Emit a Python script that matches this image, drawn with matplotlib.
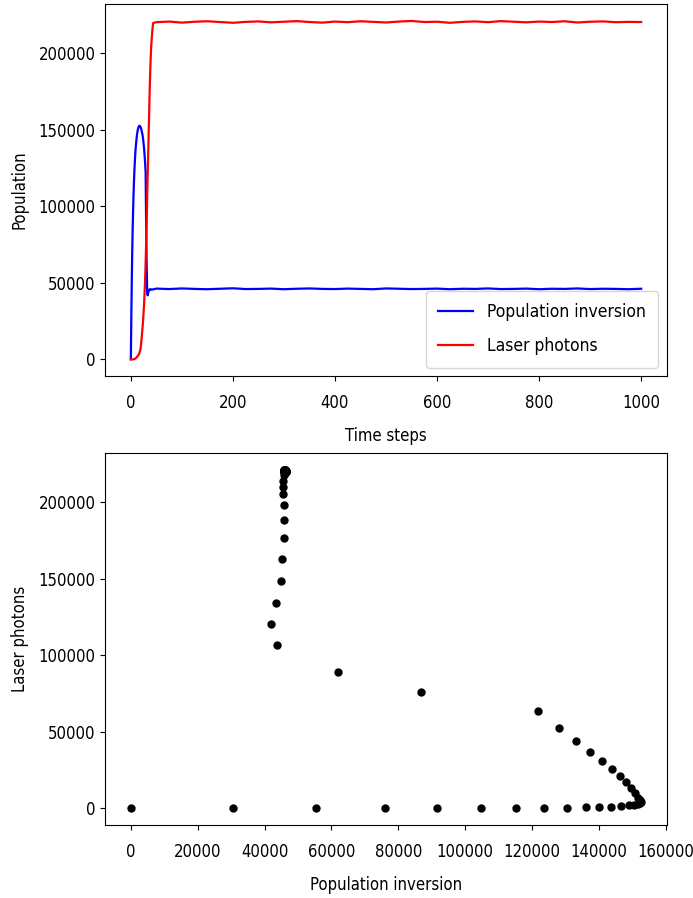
import numpy as np
import matplotlib
matplotlib.use('Agg')
import matplotlib.pyplot as plt

plt.rcParams['font.family'] = ['DejaVu Sans']
plt.rcParams['font.stretch'] = 'condensed'

# start-up transient, one value per time step (t = 0..44)
inversion_start = [0, 30500, 55400, 75900, 91500, 104600, 115100, 123600, 130300,
                   136100, 140100, 143600, 146500, 148900, 150500, 151600, 152300,
                   152600, 152300, 151800, 150800, 149600, 148000, 146300, 143900,
                   140800, 137400, 133000, 127900, 121800, 86800, 61800, 43800,
                   41800, 43500, 44800, 45100, 45800, 45800, 45800, 45500, 45500,
                   45600, 45700, 45700]
photons_start = [0, 0, 0, 0, 0, 0, 100, 200, 300, 600, 900, 1200, 1600, 2000, 2400,
                 2900, 3500, 4400, 5500, 6700, 10000, 13300, 17100, 21100, 25500,
                 31100, 36600, 44000, 52600, 63300, 76100, 88900, 106700, 120400,
                 133800, 148600, 163100, 176800, 188300, 197800, 205000, 209800,
                 214100, 218000, 219700]

# steady state, read every 25 steps (t = 50..1000)
steady_steps = list(range(50, 1001, 25))
inversion_steady = [46200, 45900, 46300, 46000, 45800, 46100, 46400, 45900, 46000,
                    46200, 45800, 46100, 46300, 46000, 45900, 46200, 46000, 45800,
                    46300, 46100, 45900, 46000, 46200, 45800, 46100, 46000, 46300,
                    45900, 46000, 46200, 45800, 46100, 46000, 46300, 45900, 46100,
                    46000, 45800, 46100]
photons_steady = [220200, 220600, 219900, 220500, 220800, 220300, 219800, 220400,
                  220700, 220100, 220500, 220900, 220300, 219900, 220600, 220200,
                  220800, 220400, 220000, 220600, 221000, 220300, 220500, 219800,
                  220400, 220700, 220200, 220900, 220500, 220100, 220600, 220300,
                  220800, 220000, 220500, 220700, 220200, 220400, 220300]

t = list(range(len(inversion_start))) + steady_steps
inversion = inversion_start + inversion_steady
photons = photons_start + photons_steady

fig = plt.figure(figsize=(6.93, 8.98), dpi=100)
ax1 = fig.add_axes([0.152, 0.581, 0.81, 0.4145])
ax2 = fig.add_axes([0.152, 0.081, 0.81, 0.4145])

ax1.plot(t, inversion, color='blue', lw=1.6, label='Population inversion')
ax1.plot(t, photons, color='red', lw=1.6, label='Laser photons')
ax1.set_xlabel('Time steps', fontsize=12, labelpad=11)
ax1.set_ylabel('Population', fontsize=12, labelpad=7)
ax1.legend(loc='lower right', fontsize=12.5, labelspacing=0.95, borderpad=0.7)

ax2.plot(inversion, photons, 'ko', ms=5)
ax2.set_xlabel('Population inversion', fontsize=12, labelpad=11)
ax2.set_ylabel('Laser photons', fontsize=12, labelpad=7)

for ax in (ax1, ax2):
    ax.tick_params(labelsize=12)
    ax.tick_params(axis='x', pad=9)

fig.savefig('out.png', dpi=100)
